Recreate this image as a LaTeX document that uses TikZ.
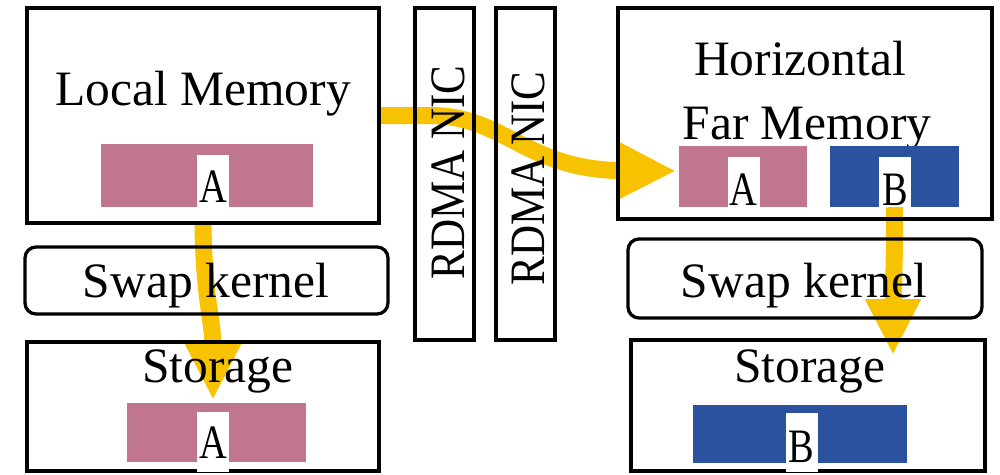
\documentclass[tikz,border=0pt]{standalone}
\usepackage{fontspec}
\setmainfont{Liberation Serif}
\usetikzlibrary{arrows.meta}
\definecolor{blockpink}{RGB}{192,118,143}
\definecolor{blockblue}{RGB}{43,82,158}
\definecolor{flowyellow}{RGB}{247,194,0}
\pgfdeclarelayer{flowlayer}
\pgfsetlayers{flowlayer,main}

\begin{document}
\begin{tikzpicture}[x=1pt,y=-1pt,
  frame/.style={draw=black, line width=3.3pt, inner sep=0pt},
  softframe/.style={frame, rounded corners=11pt},
  block/.style={inner sep=0pt, draw=none},
  tag/.style={fill=white, inner sep=0pt, minimum width=32pt},
  caption/.style={font=\fontsize{49.5}{56}\selectfont, inner sep=0pt, anchor=base},
  letter/.style={font=\fontsize{48}{54}\selectfont, inner sep=0pt, anchor=base},
  flow/.style={draw=flowyellow, line width=17pt,
    -{Triangle[length=56pt,width=52pt]}}
]
\useasboundingbox (0,0) rectangle (1000,474);

% ---------- left machine ----------
\node[frame, minimum width=352pt, minimum height=215pt] (lmem) at (203,115.5) {};
\node[caption] (lmemtxt) at (203,105) {Local Memory};
\node[block, fill=blockpink, minimum width=212pt, minimum height=63pt] (lmemblk) at (207,175.5) {};
\node[tag, minimum height=52pt] (lmemtag) at (213,181) {};
\node[letter] (lmemA) at (213,202) {\scalebox{0.8}[1]{A}};

\node[softframe, minimum width=363pt, minimum height=67pt] (lswap) at (206.5,280.5) {};
\node[caption] (lswaptxt) at (206,297) {Swap kernel};

\node[frame, minimum width=352pt, minimum height=129pt] (lsto) at (203,406.5) {};
\node[caption] (lstotxt) at (218,382) {Storage};
\node[block, fill=blockpink, minimum width=179pt, minimum height=59pt] (lstoblk) at (216.5,432.5) {};
\node[tag, minimum height=60pt] (lstotag) at (213,442) {};
\node[letter] (lstoA) at (213,458) {\scalebox{0.8}[1]{A}};

% ---------- network cards ----------
\node[frame, minimum width=59pt, minimum height=332pt] (nicone) at (444.5,174) {};
\node[caption, anchor=center, rotate=90] (niconetxt) at (448.5,172.5) {\scalebox{0.87}[1]{RDMA NIC}};
\node[frame, minimum width=59pt, minimum height=332pt] (nictwo) at (525.5,174) {};
\node[caption, anchor=center, rotate=90] (nictwotxt) at (528.5,178.5) {\scalebox{0.87}[1]{RDMA NIC}};

% ---------- right machine ----------
\node[frame, minimum width=374pt, minimum height=211pt] (rmem) at (805,113.5) {};
\node[caption] (rmemtxt) at (800,75) {Horizontal};
\node[caption] (rmemtxtb) at (807,139) {Far Memory};
\node[block, fill=blockpink, minimum width=128pt, minimum height=61pt] (rmemA) at (743,176.5) {};
\node[tag, minimum height=50pt] (rmemAtag) at (743.5,182) {};
\node[letter] (rmemAl) at (743.5,205) {\scalebox{0.8}[1]{A}};
\node[block, fill=blockblue, minimum width=129pt, minimum height=61pt] (rmemB) at (894.5,176.5) {};
\node[tag, minimum height=50pt] (rmemBtag) at (895,182) {};
\node[letter] (rmemBl) at (895,205) {\scalebox{0.8}[1]{B}};

\node[softframe, minimum width=354pt, minimum height=79pt] (rswap) at (805,278.5) {};
\node[caption] (rswaptxt) at (804,297) {Swap kernel};

\node[frame, minimum width=354pt, minimum height=131pt] (rsto) at (808,405.5) {};
\node[caption] (rstotxt) at (810,382) {Storage};
\node[block, fill=blockblue, minimum width=214pt, minimum height=58pt] (rstoblk) at (800,434) {};
\node[tag, minimum height=59pt] (rstotag) at (801.5,442.5) {};
\node[letter] (rstoB) at (801.5,462) {\scalebox{0.8}[1]{B}};

% ---------- data movement ----------
\coordinate (ltip) at (213,400);
\coordinate (htip) at (676,171);
\coordinate (rtip) at (893,355);
\begin{pgfonlayer}{flowlayer}
  \draw[flow] (lmem.south) .. controls (204,300) and (213,320) .. (ltip);
  \draw[flow] (lmem.east) -- (430,115.5) .. controls (505,115.5) and (525,170) .. (htip);
  \draw[flow] (rmemB.south) .. controls (895,260) and (893,290) .. (rtip);
\end{pgfonlayer}
\end{tikzpicture}
\end{document}
